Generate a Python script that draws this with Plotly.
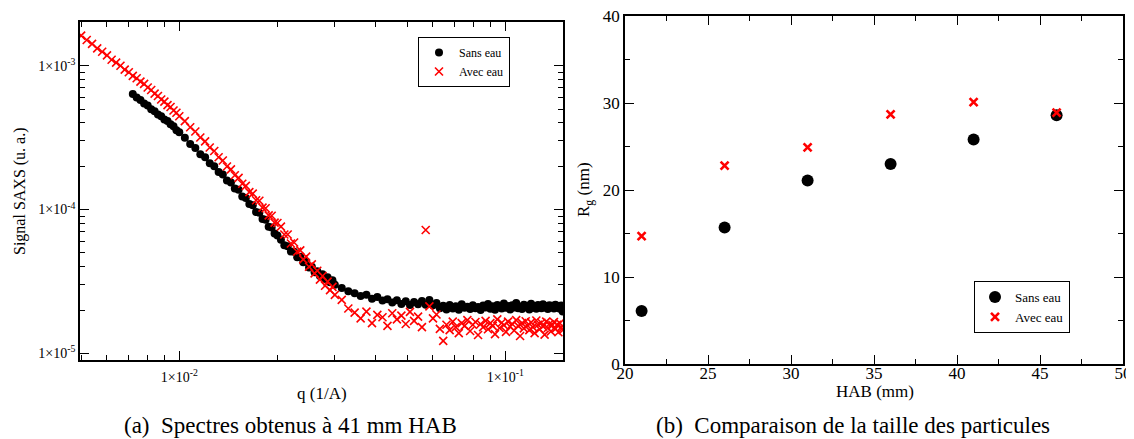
import plotly.graph_objects as go

# ---------------------------------------------------------------
# (a) SAXS spectra at 41 mm HAB  -- q in 1/A, signal in 1e-5 u.a.
# ---------------------------------------------------------------
SIGNAL_UNIT = 1e-5

Q = [
    # 0.005 - 0.010
    0.0050, 0.0052, 0.0054, 0.0056, 0.0058, 0.0060, 0.0062, 0.0064, 0.0066, 0.0068,
    0.0070, 0.0072, 0.0074, 0.0076, 0.0078, 0.0080, 0.0082, 0.0084, 0.0086, 0.0088,
    0.0090, 0.0092, 0.0094, 0.0096, 0.0098, 0.0100,
    # 0.010 - 0.020
    0.0104, 0.0108, 0.0112, 0.0116, 0.0120, 0.0124, 0.0128, 0.0132, 0.0136, 0.0140,
    0.0144, 0.0148, 0.0152, 0.0156, 0.0160, 0.0164, 0.0168, 0.0172, 0.0176, 0.0180,
    0.0184, 0.0188, 0.0192, 0.0196, 0.0200,
    # 0.020 - 0.030
    0.0205, 0.0210, 0.0215, 0.0220, 0.0225, 0.0230, 0.0235, 0.0240, 0.0245, 0.0250,
    0.0255, 0.0260, 0.0265, 0.0270, 0.0275, 0.0280, 0.0285, 0.0290, 0.0295, 0.0300,
    # 0.030 - 0.150
    0.0315, 0.0330, 0.0345, 0.0360, 0.0375, 0.0390, 0.0405, 0.0420, 0.0435, 0.0450,
    0.0465, 0.0480, 0.0495, 0.0510, 0.0525, 0.0540, 0.0555, 0.0570, 0.0585, 0.0600,
    0.0615, 0.0630, 0.0645, 0.0660, 0.0675, 0.0690, 0.0705, 0.0720, 0.0735, 0.0750,
    0.0765, 0.0780, 0.0795, 0.0810, 0.0825, 0.0840, 0.0855, 0.0870, 0.0885, 0.0900,
    0.0915, 0.0930, 0.0945, 0.0960, 0.0975, 0.0990, 0.1005, 0.1020, 0.1035, 0.1050,
    0.1065, 0.1080, 0.1095, 0.1110, 0.1125, 0.1140, 0.1155, 0.1170, 0.1185, 0.1200,
    0.1215, 0.1230, 0.1245, 0.1260, 0.1275, 0.1290, 0.1305, 0.1320, 0.1335, 0.1350,
    0.1365, 0.1380, 0.1395, 0.1410, 0.1425, 0.1440, 0.1455, 0.1470, 0.1485, 0.1500,
]

# "Avec eau" signal on the full q grid
I_AVEC = [
    162, 151, 142, 132, 125, 118, 110, 105, 100, 94,
    90, 85.0, 81.8, 77.5, 74.8, 70.5, 67.8, 64.0, 61.6, 58.2,
    56.3, 53.2, 51.6, 48.8, 47.1, 44.5,
    41.2, 37.3, 34.9, 31.7, 29.8, 27.0, 25.5, 23.1, 21.9, 19.9,
    19.0, 17.3, 16.6, 15.1, 14.6, 13.2, 12.9, 11.6, 11.5, 10.3,
    10.2, 9.1, 9.05, 8.1, 8.05,
    7.6, 6.7, 6.7, 5.8, 5.9, 5.1, 5.2, 4.5, 4.7, 4.0,
    4.15, 3.6, 3.75, 3.25, 3.45, 2.95, 3.15, 2.75, 2.9, 2.55,
    2.35, 2.05, 1.92, 1.75, 1.95, 1.62, 1.85, 1.78, 1.55, 1.90,
    1.72, 1.83, 1.60, 1.94, 1.68, 1.80, 1.52, 7.20, 2.12, 1.75,
    1.86, 1.48, 1.22, 1.58, 1.45, 1.66, 1.52, 1.38, 1.62, 1.55,
    1.70, 1.43, 1.58, 1.65, 1.34, 1.60, 1.52, 1.68, 1.47, 1.62,
    1.55, 1.36, 1.72, 1.50, 1.63, 1.57, 1.41, 1.66, 1.53, 1.60,
    1.44, 1.70, 1.55, 1.32, 1.62, 1.49, 1.67, 1.56, 1.45, 1.64,
    1.52, 1.38, 1.69, 1.58, 1.47, 1.63, 1.54, 1.35, 1.66, 1.50,
    1.60, 1.42, 1.57, 1.65, 1.48, 1.58, 1.40, 1.62, 1.52, 1.45,
]

# "Sans eau" signal starts at q = 0.0072
Q_SANS_MIN = 0.0072
I_SANS = [
    63.5, 60.0, 57.8, 54.6, 52.8, 49.8, 48.3, 45.8, 44.6, 42.2,
    41.2, 39.1, 37.9, 35.6, 34.5,
    31.6, 28.5, 26.8, 24.2, 23.1, 21.0, 20.0, 18.2, 17.5, 15.9,
    15.4, 14.0, 13.7, 12.3, 12.0, 10.9, 10.7, 9.6, 9.5, 8.6,
    8.5, 7.6, 7.5, 6.8, 6.6,
    6.15, 5.65, 5.55, 5.10, 5.08, 4.65, 4.70, 4.30, 4.35, 3.95,
    4.00, 3.66, 3.72, 3.45, 3.55, 3.28, 3.38, 3.12, 3.22, 3.00,
    2.84, 2.70, 2.62, 2.50, 2.55, 2.40, 2.46, 2.33, 2.38, 2.26,
    2.34, 2.20, 2.30, 2.17, 2.27, 2.19, 2.31, 2.18, 2.35, 2.16,
    2.24, 2.06, 2.14, 2.02, 2.17, 2.05, 2.12, 2.01, 2.19, 2.07,
    2.11, 2.03, 2.16, 2.06, 2.10, 2.00, 2.15, 2.08, 2.20, 2.04,
    2.12, 2.01, 2.17, 2.09, 2.05, 2.22, 2.07, 2.13, 2.02, 2.16,
    2.08, 2.24, 2.06, 2.11, 2.03, 2.18, 2.09, 2.14, 2.02, 2.21,
    2.07, 2.12, 2.04, 2.17, 2.10, 2.06, 2.19, 2.08, 2.13, 2.03,
    2.16, 2.09, 2.14, 2.05, 2.18, 2.07, 2.12, 2.04, 2.15, 1.95,
]

# ---------------------------------------------------------------
# (b) Radius of gyration vs HAB
# ---------------------------------------------------------------
HAB = [21, 26, 31, 36, 41, 46]
RG_SANS = [6.1, 15.7, 21.1, 23.0, 25.8, 28.6]
RG_AVEC = [14.7, 22.8, 24.9, 28.7, 30.1, 28.9]

PAGE_OFFSET = 8  # default body margin of the html page
W, H = 1134 - PAGE_OFFSET, 439 - PAGE_OFFSET
FONT = "Liberation Serif, Times New Roman, serif"


# screen pixel -> paper fraction
def px_x(p):
    return (p - PAGE_OFFSET) / W


def px_y(p):
    return 1 - (p - PAGE_OFFSET) / H


def serif(size):
    return dict(family=FONT, size=size, color="black")


q_sans = [q for q in Q if q >= Q_SANS_MIN]

fig = go.Figure()

fig.add_trace(go.Scatter(
    x=q_sans, y=[v * SIGNAL_UNIT for v in I_SANS], mode="markers", name="Sans eau",
    marker=dict(symbol="circle", size=8, color="black"),
    xaxis="x", yaxis="y", legend="legend",
))
fig.add_trace(go.Scatter(
    x=Q, y=[v * SIGNAL_UNIT for v in I_AVEC], mode="markers", name="Avec eau",
    marker=dict(symbol="x-thin", size=8, color="red", line=dict(width=1.6, color="red")),
    xaxis="x", yaxis="y", legend="legend",
))
fig.add_trace(go.Scatter(
    x=HAB, y=RG_SANS, mode="markers", name="Sans eau",
    marker=dict(symbol="circle", size=12, color="black"),
    xaxis="x2", yaxis="y2", legend="legend2",
))
fig.add_trace(go.Scatter(
    x=HAB, y=RG_AVEC, mode="markers", name="Avec eau",
    marker=dict(symbol="x-thin", size=8, color="red", line=dict(width=2.6, color="red")),
    xaxis="x2", yaxis="y2", legend="legend2",
))

frame = dict(showline=True, linecolor="black", linewidth=1.5, mirror="allticks",
             ticks="inside", tickcolor="black", tickwidth=1.2, ticklen=9,
             showgrid=False, zeroline=False, automargin=False,
             ticklabeloverflow="allow")

log_minor = [k * 10 ** e for e in range(-6, 0) for k in range(2, 10)]

fig.update_layout(
    width=W, height=H,
    margin=dict(l=0, r=0, t=0, b=0, pad=0, autoexpand=False),
    paper_bgcolor="white", plot_bgcolor="white",
    font=serif(14),
    xaxis=dict(
        frame, domain=[px_x(80), px_x(563)], anchor="y", type="log",
        range=[-2.3046, -0.823],
        tickmode="array", tickvals=[0.01, 0.1],
        ticktext=["1×10<sup>-2</sup>", "1×10<sup>-1</sup>"],
        tickfont=serif(14), ticklabelstandoff=3,
        minor=dict(ticks="inside", ticklen=5, tickcolor="black", tickvals=log_minor, showgrid=False),
    ),
    yaxis=dict(
        frame, domain=[px_y(360), px_y(22)], anchor="x", type="log",
        range=[-5.0466, -2.696],
        tickmode="array", tickvals=[1e-5, 1e-4, 1e-3],
        ticktext=["1×10<sup>-5</sup>", "1×10<sup>-4</sup>", "1×10<sup>-3</sup>"],
        tickfont=serif(14),
        minor=dict(ticks="inside", ticklen=5, tickcolor="black", tickvals=log_minor, showgrid=False),
    ),
    xaxis2=dict(
        frame, domain=[px_x(625), px_x(1123)], anchor="y2",
        range=[20, 50], tick0=20, dtick=5, tickfont=serif(17), ticklabelstandoff=-7,
        minor=dict(ticks="inside", ticklen=5, tickcolor="black", dtick=2.5, showgrid=False),
    ),
    yaxis2=dict(
        frame, domain=[px_y(364), px_y(16)], anchor="x2",
        range=[0, 40], tick0=0, dtick=10, tickfont=serif(17),
        minor=dict(ticks="inside", ticklen=5, tickcolor="black", dtick=5, showgrid=False),
    ),
    legend=dict(
        x=px_x(418), y=px_y(62), xanchor="left", yanchor="middle",
        bordercolor="black", borderwidth=1, bgcolor="white",
        font=serif(12), tracegroupgap=0,
    ),
    legend2=dict(
        x=px_x(974), y=px_y(307), xanchor="left", yanchor="middle",
        bordercolor="black", borderwidth=1, bgcolor="white",
        font=serif(13), tracegroupgap=0,
    ),
)

texts = [
    dict(text="q (1/A)", x=322, y=393, size=17, angle=0),
    dict(text="Signal SAXS (u. a.)", x=20, y=191, size=16, angle=-90),
    dict(text="HAB (mm)", x=875, y=391, size=17, angle=0),
    dict(text="R<sub>g</sub> (nm)", x=585, y=190, size=17, angle=-90),
    dict(text="(a)\u00a0 Spectres obtenus à 41 mm HAB", x=291, y=425, size=23, angle=0),
    dict(text="(b)\u00a0 Comparaison de la taille des particules", x=853, y=425, size=23, angle=0),
]
for t in texts:
    fig.add_annotation(
        text=t["text"], x=px_x(t["x"]), y=px_y(t["y"]), xref="paper", yref="paper",
        showarrow=False, xanchor="center", yanchor="middle", textangle=t["angle"],
        font=serif(t["size"]),
    )

fig.write_html("out.html")
